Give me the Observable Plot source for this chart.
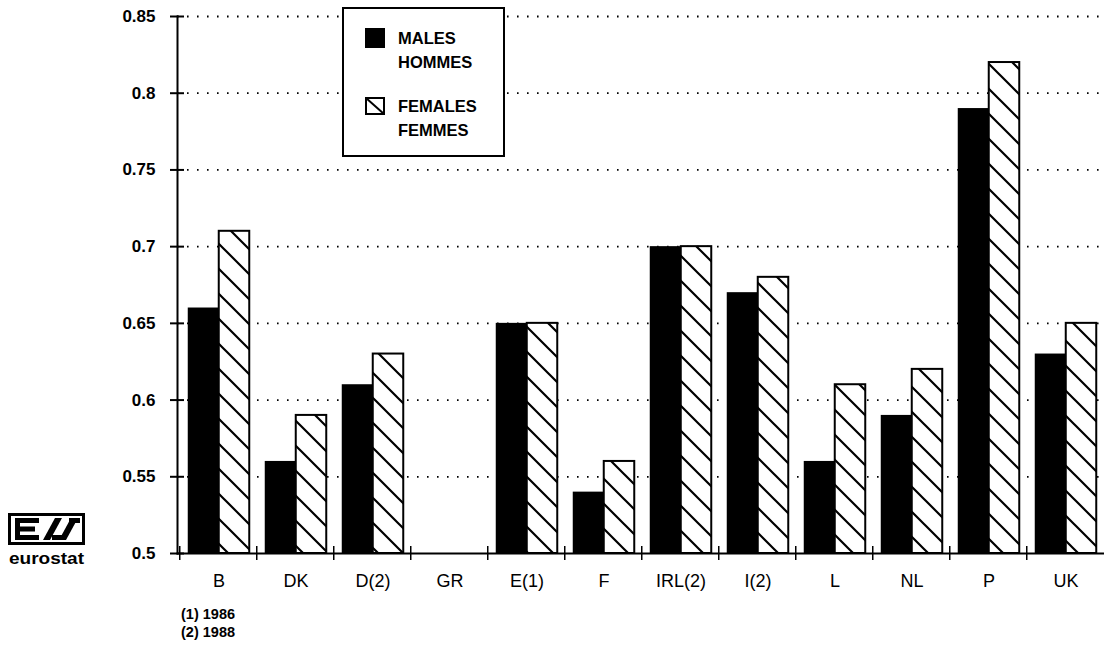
<!DOCTYPE html>
<html>
<head>
<meta charset="utf-8">
<script src="https://cdn.jsdelivr.net/npm/d3@7"></script>
<script src="https://cdn.jsdelivr.net/npm/@observablehq/plot@0.6"></script>
<style>
  body { margin: 0; background: #fff; }
  #wrap { position: relative; width: 1104px; height: 648px; overflow: hidden; background: #fff;
          font-family: "Liberation Sans", Arial, Helvetica, sans-serif; color: #000; }
  #chart { position: absolute; left: 0; top: 0; }
  #legend { position: absolute; left: 342px; top: 7px; width: 159px; height: 146px;
            border: 2px solid #000; background: #fff; font-weight: bold; font-size: 16.5px; line-height: 24px; }
  .li { position: absolute; left: 54px; }
  .sw { position: absolute; left: 21px; }
  #notes { position: absolute; left: 181px; top: 605px; font-size: 14.5px; font-weight: bold; line-height: 18px; }
  #logo { position: absolute; left: 7px; top: 512px; }
</style>
</head>
<body>
<div id="wrap">
  <div id="chart"></div>
  <div id="legend">
    <div class="sw" style="top:19px;width:20px;height:20px;background:#000"></div>
    <div class="li" style="top:17px">MALES</div>
    <div class="li" style="top:41px">HOMMES</div>
    <svg class="sw" style="top:88px" width="20" height="18">
      <rect x="1" y="1" width="18" height="16" fill="#fff" stroke="#000" stroke-width="2"/>
      <line x1="1" y1="1" x2="19" y2="17" stroke="#000" stroke-width="2"/>
    </svg>
    <div class="li" style="top:85px">FEMALES</div>
    <div class="li" style="top:109px">FEMMES</div>
  </div>
  <div id="notes">(1) 1986<br>(2) 1988</div>
  <svg id="logo" width="80" height="58" viewBox="0 0 80 58">
    <rect x="2.5" y="2.5" width="74" height="29" fill="#fff" stroke="#000" stroke-width="3"/>
    <rect x="8" y="6" width="5" height="22" fill="#000"/>
    <rect x="8" y="6" width="24" height="5" fill="#000"/>
    <rect x="8" y="14.5" width="20" height="5" fill="#000"/>
    <rect x="8" y="23" width="24" height="5" fill="#000"/>
    <polygon points="36,28 43,28 55,6 48,6" fill="#000"/>
    <polygon points="52,28 59,28 71,6 64,6" fill="#000"/>
    <rect x="62" y="6" width="11" height="5" fill="#000"/>
    <rect x="45" y="23" width="12" height="5" fill="#000"/>
    <text x="2" y="52" font-family="Liberation Sans, Arial, sans-serif" font-weight="bold" font-size="17" textLength="75" lengthAdjust="spacingAndGlyphs">eurostat</text>
  </svg>
</div>
<script>
const countries = ["B", "DK", "D(2)", "GR", "E(1)", "F", "IRL(2)", "I(2)", "L", "NL", "P", "UK"];
const males   = [0.66, 0.56, 0.61, null, 0.65, 0.54, 0.70, 0.67, 0.56, 0.59, 0.79, 0.63];
const females = [0.71, 0.59, 0.63, null, 0.65, 0.56, 0.70, 0.68, 0.61, 0.62, 0.82, 0.65];
const yTicks  = [0.5, 0.55, 0.6, 0.65, 0.7, 0.75, 0.8, 0.85];
const gridTicks = yTicks.slice(1);

const maleRows = countries.map((c, i) => ({country: c, value: males[i]})).filter(d => d.value != null);
const femaleRows = countries.map((c, i) => ({country: c, value: females[i]})).filter(d => d.value != null);

const W = 1104, H = 600;
const x0 = 177, x1 = 1107, yTop = 16, yBot = 553;
const bw = (x1 - x0) / countries.length;
const barW = 31;
const pad = (bw - 2 * barW) / 2;

const chart = Plot.plot({
  width: W,
  height: H,
  marginLeft: x0,
  marginRight: 0,
  marginTop: yTop,
  marginBottom: H - yBot,
  style: {fontFamily: "'Liberation Sans', Arial, sans-serif", fontSize: "17px", color: "#000", background: "transparent", overflow: "hidden"},
  x: {domain: countries, range: [x0, x1], padding: 0, label: null},
  y: {domain: [0.5, 0.85], range: [yBot, yTop], clamp: true, label: null},
  marks: [
    Plot.ruleY(gridTicks, {y: d => d, stroke: "#000", strokeWidth: 1.8, strokeDasharray: "1.6,8.4"}),
    Plot.barY(maleRows, {x: "country", y: "value", fill: "#000", insetLeft: pad, insetRight: pad + barW}),
    Plot.barY(femaleRows, {x: "country", y: "value", fill: "url(#hatch)", stroke: "#000", strokeWidth: 2, insetLeft: pad + barW, insetRight: pad}),
    Plot.barY(countries, {x: d => d, y1: 0.5, y2: 0.5, fill: "#000", insetLeft: -1, insetRight: bw - 1, insetTop: -7, insetBottom: -7}),
    Plot.frame({anchor: "left", stroke: "#000", strokeWidth: 2}),
    Plot.frame({anchor: "bottom", stroke: "#000", strokeWidth: 2}),
    Plot.axisY({ticks: yTicks, tickSize: 14, dx: 7, tickPadding: 15, strokeWidth: 2, tickFormat: d => String(d), fontWeight: "bold", fontSize: 17, label: null}),
    Plot.axisX({tickSize: 0, tickPadding: 21, fontSize: 18, label: null})
  ]
});

d3.select(chart).insert("defs", ":first-child").html(
  `<pattern id="hatch" patternUnits="userSpaceOnUse" width="25" height="25">
     <rect width="25" height="25" fill="#fff"/>
     <path d="M-2,-2 L27,27 M-8,17 L8,33 M17,-8 L33,8" stroke="#000" stroke-width="2.2"/>
   </pattern>`
);

document.getElementById("chart").appendChild(chart);
</script>
</body>
</html>
